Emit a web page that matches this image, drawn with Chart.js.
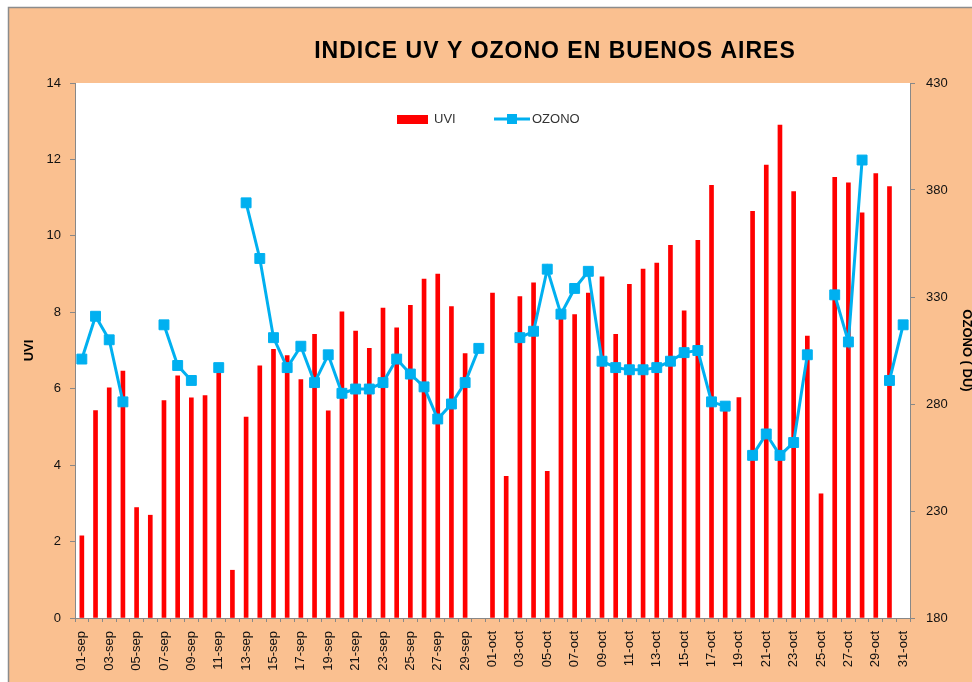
<!DOCTYPE html>
<html>
<head>
<meta charset="utf-8">
<script src="https://cdn.jsdelivr.net/npm/chart.js@4"></script>
<style>
  html, body { margin: 0; padding: 0; background: #FFFFFF; }
  #wrap { width: 972px; height: 682px; }
</style>
</head>
<body>
<div id="wrap"><canvas id="chart" width="972" height="682"></canvas></div>
<script>
const chartTitle = 'INDICE UV Y OZONO EN BUENOS AIRES';

const days = [
  '01-sep','02-sep','03-sep','04-sep','05-sep','06-sep','07-sep','08-sep','09-sep','10-sep',
  '11-sep','12-sep','13-sep','14-sep','15-sep','16-sep','17-sep','18-sep','19-sep','20-sep',
  '21-sep','22-sep','23-sep','24-sep','25-sep','26-sep','27-sep','28-sep','29-sep','30-sep',
  '01-oct','02-oct','03-oct','04-oct','05-oct','06-oct','07-oct','08-oct','09-oct','10-oct',
  '11-oct','12-oct','13-oct','14-oct','15-oct','16-oct','17-oct','18-oct','19-oct','20-oct',
  '21-oct','22-oct','23-oct','24-oct','25-oct','26-oct','27-oct','28-oct','29-oct','30-oct',
  '31-oct'
];

// UVI (left axis)
const uvi = [
  2.15, 5.43, 6.02, 6.46, 2.89, 2.69, 5.69, 6.34, 5.76, 5.82,
  6.55, 1.25, 5.26, 6.60, 7.03, 6.87, 6.24, 7.42, 5.42, 8.01,
  7.51, 7.06, 8.11, 7.59, 8.18, 8.87, 9.00, 8.15, 6.92, null,
  8.50, 3.71, 8.41, 8.77, 3.84, 8.05, 7.94, 8.50, 8.93, 7.42,
  8.73, 9.13, 9.29, 9.75, 8.04, 9.88, 11.32, 5.60, 5.77, 10.64,
  11.85, 12.90, 11.16, 7.38, 3.25, 11.53, 11.39, 10.60, 11.63, 11.29,
  null
];

// OZONO in DU (right axis), gaps where no reading
const ozono = [
  301, 321, 310, 281, null, null, 317, 298, 291, null,
  297, null, 374, 348, 311, 297, 307, 290, 303, 285,
  287, 287, 290, 301, 294, 288, 273, 280, 290, 306,
  null, null, 311, 314, 343, 322, 334, 342, 300, 297,
  296, 296, 297, 300, 304, 305, 281, 279, null, 256,
  266, 256, 262, 303, null, 331, 309, 394, null, 291,
  317
];

const uviTicks = { min: 0, max: 14, step: 2 };
const ozonoTicks = { min: 180, max: 430, step: 50 };

const red = '#FF0000';
const blue = '#00B0F0';
const peach = '#FAC090';
const font = 'Liberation Sans, Arial, sans-serif';

// page / chart frame and white plot background
const plotBg = {
  id: 'plotBg',
  beforeDraw(chart) {
    const { ctx, chartArea: a, width, height } = chart;
    ctx.save();
    ctx.fillStyle = '#FFFFFF';
    ctx.fillRect(0, 0, width, height);
    ctx.fillStyle = peach;
    ctx.fillRect(8, 7, width - 8, height - 7);
    ctx.strokeStyle = '#8C8C8C';
    ctx.lineWidth = 1.5;
    ctx.beginPath();
    ctx.moveTo(8.5, height);
    ctx.lineTo(8.5, 7.5);
    ctx.lineTo(width, 7.5);
    ctx.stroke();
    ctx.fillStyle = '#FFFFFF';
    ctx.fillRect(a.left, a.top, a.right - a.left, a.bottom - a.top);
    ctx.restore();
  }
};

// title + legend drawn inside the plot like the original
const overlay = {
  id: 'overlay',
  afterDraw(chart) {
    const ctx = chart.ctx;
    ctx.save();
    ctx.fillStyle = '#000';
    ctx.font = 'bold 23px ' + font;
    ctx.letterSpacing = '1px';
    ctx.textAlign = 'center';
    ctx.textBaseline = 'middle';
    ctx.fillText(chartTitle, 555, 52);
    ctx.letterSpacing = '0px';

    const ly = 119;
    ctx.font = '13px ' + font;
    ctx.textAlign = 'left';
    ctx.fillStyle = red;
    ctx.fillRect(397, ly - 4, 31, 9);
    ctx.fillStyle = '#333';
    ctx.fillText(chart.data.datasets[1].label, 434, ly);

    ctx.strokeStyle = blue;
    ctx.lineWidth = 3;
    ctx.beginPath();
    ctx.moveTo(494, ly);
    ctx.lineTo(530, ly);
    ctx.stroke();
    ctx.fillStyle = blue;
    ctx.fillRect(507, ly - 5, 10, 10);
    ctx.fillStyle = '#333';
    ctx.fillText(chart.data.datasets[0].label, 532, ly);
    ctx.restore();
  }
};

new Chart(document.getElementById('chart').getContext('2d'), {
  data: {
    labels: days,
    datasets: [
      {
        type: 'line',
        label: 'OZONO',
        data: ozono,
        yAxisID: 'y2',
        borderColor: blue,
        backgroundColor: blue,
        borderWidth: 3,
        pointStyle: 'rect',
        pointRadius: 7,
        pointBorderWidth: 1,
        pointBackgroundColor: blue,
        pointBorderColor: blue,
        spanGaps: false,
        tension: 0,
        order: 0
      },
      {
        type: 'bar',
        label: 'UVI',
        data: uvi,
        yAxisID: 'y',
        backgroundColor: red,
        barThickness: 4,
        order: 1
      }
    ]
  },
  options: {
    responsive: false,
    animation: false,
    layout: { padding: { top: 83, left: 0, right: 0, bottom: 0 } },
    plugins: {
      legend: { display: false },
      title: { display: false },
      tooltip: { enabled: false }
    },
    scales: {
      x: {
        afterFit(s) { s.height = 64; },
        grid: { display: true, drawOnChartArea: false, tickLength: 4, color: '#888' },
        border: { color: '#888', width: 1 },
        ticks: {
          autoSkip: false,
          minRotation: 90,
          maxRotation: 90,
          padding: 9,
          color: '#111',
          font: { family: font, size: 13 },
          callback: (v, i) => (i % 2 === 0 ? days[i] : '')
        }
      },
      y: {
        position: 'left',
        min: uviTicks.min,
        max: uviTicks.max,
        afterFit(s) { s.width = 75; },
        grid: { display: true, drawOnChartArea: false, tickLength: 5, color: '#888' },
        border: { color: '#888', width: 1 },
        ticks: { stepSize: uviTicks.step, color: '#111', padding: 9, font: { family: font, size: 13 } },
        title: { display: true, text: 'UVI', color: '#000', padding: { top: 22 }, font: { family: font, size: 13, weight: 'bold' } }
      },
      y2: {
        position: 'right',
        min: ozonoTicks.min,
        max: ozonoTicks.max,
        afterFit(s) { s.width = 62; },
        grid: { display: true, drawOnChartArea: false, tickLength: 5, color: '#888' },
        border: { color: '#888', width: 1 },
        ticks: { stepSize: ozonoTicks.step, color: '#111', padding: 11, font: { family: font, size: 13 } },
        title: { display: true, text: 'OZONO ( DU)', color: '#000', padding: { top: -2 }, font: { family: font, size: 13, weight: 'bold' } }
      }
    }
  },
  plugins: [plotBg, overlay]
});
</script>
</body>
</html>
